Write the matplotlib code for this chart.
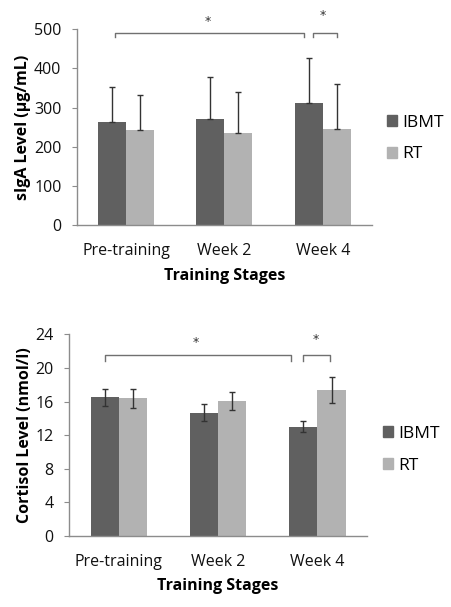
import matplotlib
matplotlib.use("Agg")
import matplotlib.pyplot as plt
import numpy as np
from matplotlib.patches import Patch

plt.rcParams['font.family'] = ['Open Sans', 'DejaVu Sans']

stages = ["Pre-training", "Week 2", "Week 4"]
groups = ["IBMT", "RT"]

siga_ibmt = [262, 272, 311]
siga_rt = [242, 236, 246]
siga_ibmt_err = [90, 105, 116]
siga_rt_err = [89, 104, 115]

cort_ibmt = [16.5, 14.7, 13.0]
cort_rt = [16.4, 16.1, 17.4]
cort_ibmt_err = [1.0, 1.05, 0.65]
cort_rt_err = [1.1, 1.05, 1.57]

dark = "#606060"
light = "#b2b2b2"
spine_c = "#8c8c8c"
bw = 0.285

fig = plt.figure(figsize=(4.52, 6.07), dpi=100)
ax1 = fig.add_axes([0.170, 0.629, 0.653, 0.323])
ax2 = fig.add_axes([0.153, 0.117, 0.659, 0.332])


def style(ax, ymax, step, ylabel):
    ax.set_ylim(0, ymax)
    ax.set_xlim(-0.5, 2.5)
    ax.set_yticks(np.arange(0, ymax + step / 2, step))
    ax.set_xticks(range(len(stages)))
    ax.set_xticklabels(stages)
    for s in ["top", "right"]:
        ax.spines[s].set_visible(False)
    for s in ["left", "bottom"]:
        ax.spines[s].set_color(spine_c)
        ax.spines[s].set_linewidth(1.0)
    ax.tick_params(axis="y", length=3.6, color=spine_c, labelsize=11.5, pad=7.5, labelcolor="#111111")
    ax.tick_params(axis="x", length=0, labelsize=11.5, pad=13, labelcolor="#111111")
    ax.set_xlabel("Training Stages", fontsize=11.5, fontweight="bold", labelpad=6)
    ax.set_ylabel(ylabel, fontsize=11.5, fontweight="bold", labelpad=2)


def bracket(ax, x0, x1, y, drop, color="#707070"):
    ax.plot([x0, x0, x1, x1], [y - drop, y, y, y - drop], color=color, lw=1.0, clip_on=False)


def star(ax, x, y):
    ax.text(x, y, "*", ha="center", va="center", fontsize=9, color="#333333",
            family="DejaVu Sans", clip_on=False)


def legend(ax, fx, fy):
    ax.legend(handles=[Patch(color=dark), Patch(color=light)], labels=groups,
              loc="center left", bbox_to_anchor=(fx, fy), bbox_transform=fig.transFigure,
              frameon=False, borderpad=0, borderaxespad=0,
              handlelength=0.6, handleheight=0.6, handletextpad=0.3,
              labelspacing=0.9, fontsize=12.5)


x = np.arange(len(stages))

# Top chart: sIgA
ax1.bar(x - bw / 2, siga_ibmt, bw, color=dark, zorder=2)
ax1.bar(x + bw / 2, siga_rt, bw, color=light, zorder=2)
ax1.errorbar(x - bw / 2, siga_ibmt, yerr=[np.zeros(3), siga_ibmt_err], fmt="none",
             ecolor="#333333", elinewidth=1, capsize=2.5, capthick=1, zorder=3)
ax1.errorbar(x + bw / 2, siga_rt, yerr=[np.zeros(3), siga_rt_err], fmt="none",
             ecolor="#333333", elinewidth=1, capsize=2.5, capthick=1, zorder=3)
style(ax1, 500, 100, "sIgA Level (µg/mL)")
bracket(ax1, x[0] - bw / 2 + 0.035, x[2] - bw / 2 - 0.05, 491, 12)
bracket(ax1, x[2] - bw / 2 + 0.04, x[2] + bw / 2, 491, 12)
star(ax1, 0.83, 520)
star(ax1, 2.0, 536)
legend(ax1, 0.856, 0.772)

# Bottom chart: Cortisol
ax2.bar(x - bw / 2, cort_ibmt, bw, color=dark, zorder=2)
ax2.bar(x + bw / 2, cort_rt, bw, color=light, zorder=2)
ax2.errorbar(x - bw / 2, cort_ibmt, yerr=cort_ibmt_err, fmt="none",
             ecolor="#333333", elinewidth=1, capsize=2.5, capthick=1, zorder=3)
ax2.errorbar(x + bw / 2, cort_rt, yerr=cort_rt_err, fmt="none",
             ecolor="#333333", elinewidth=1, capsize=2.5, capthick=1, zorder=3)
style(ax2, 24, 4, "Cortisol Level (nmol/l)")
bracket(ax2, x[0] - bw / 2, x[2] - bw / 2 - 0.12, 21.5, 0.65)
bracket(ax2, x[2] - bw / 2, x[2] + bw / 2 - 0.02, 21.5, 0.65)
star(ax2, 0.78, 23.0)
star(ax2, 1.98, 23.4)
legend(ax2, 0.847, 0.259)

fig.savefig("out.png", dpi=100, facecolor="white")
